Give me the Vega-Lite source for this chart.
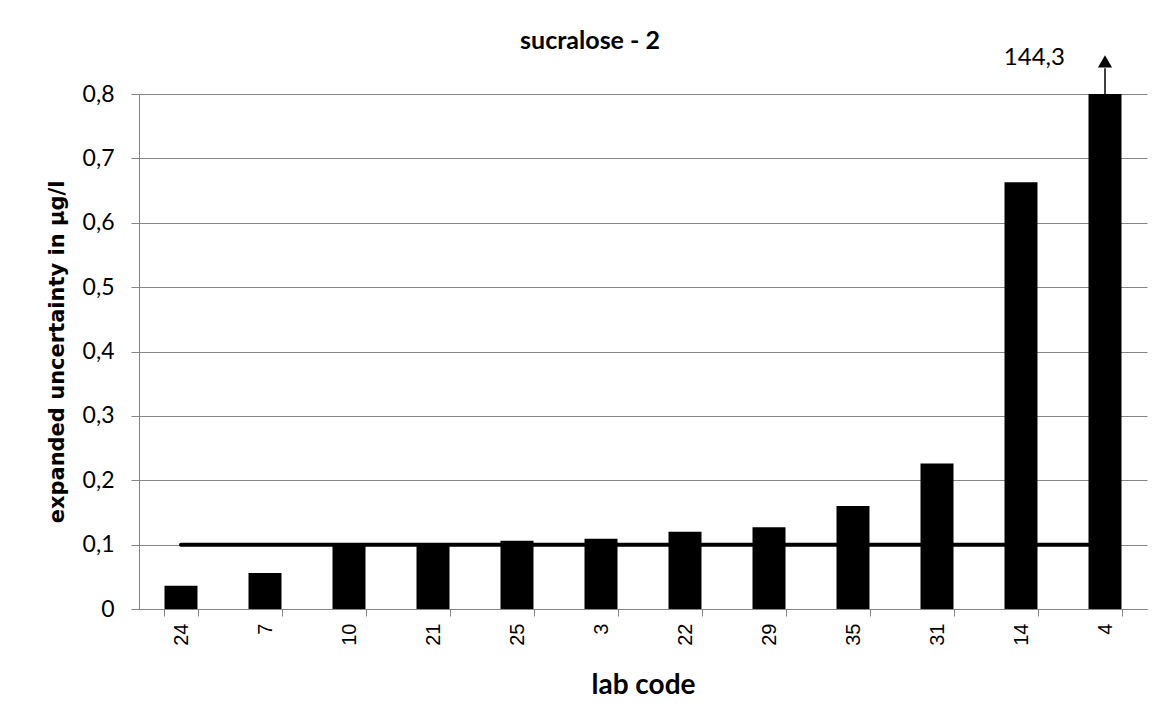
{
  "$schema": "https://vega.github.io/schema/vega-lite/v6.json",
  "autosize": {"type": "none"},
  "padding": {"left": 139, "top": 94, "right": 24, "bottom": 113},
  "width": 1008,
  "height": 515,
  "background": "white",
  "config": {
    "locale": {"number": {"decimal": ",", "thousands": ".", "grouping": [3], "currency": ["", " €"]}},
    "view": {"stroke": null},
    "font": "Lato"
  },
  "title": {
    "text": "sucralose - 2",
    "font": "Lato",
    "fontSize": 25,
    "fontWeight": "bold",
    "color": "black",
    "anchor": "middle",
    "frame": "group",
    "offset": -8,
    "dx": -53
  },
  "data": {
    "values": [
      {"lab": "24", "value": 0.036, "ref": 0.1},
      {"lab": "7", "value": 0.056, "ref": 0.1},
      {"lab": "10", "value": 0.099, "ref": 0.1},
      {"lab": "21", "value": 0.099, "ref": 0.1},
      {"lab": "25", "value": 0.106, "ref": 0.1},
      {"lab": "3", "value": 0.109, "ref": 0.1},
      {"lab": "22", "value": 0.12, "ref": 0.1},
      {"lab": "29", "value": 0.127, "ref": 0.1},
      {"lab": "35", "value": 0.16, "ref": 0.1},
      {"lab": "31", "value": 0.226, "ref": 0.1},
      {"lab": "14", "value": 0.663, "ref": 0.1},
      {"lab": "4", "value": 144.3, "ref": 0.1}
    ]
  },
  "encoding": {
    "x": {
      "field": "lab",
      "type": "nominal",
      "sort": null,
      "scale": {"paddingInner": 0.607, "paddingOuter": 0.3035},
      "axis": {
        "title": "lab code",
        "titleFont": "Lato",
        "titleFontSize": 28,
        "titleFontWeight": "bold",
        "titleColor": "black",
        "titlePadding": 26,
        "labelAngle": 270,
        "labelAlign": "right",
        "labelBaseline": "middle",
        "labelFont": "Liberation Sans",
        "labelFontSize": 20,
        "labelColor": "black",
        "labelPadding": 7,
        "tickBand": "extent",
        "tickColor": "#868686",
        "tickSize": 7,
        "domainColor": "#868686",
        "grid": false
      }
    }
  },
  "layer": [
    {
      "mark": {"type": "bar", "color": "black", "clip": true},
      "encoding": {
        "y": {
          "field": "value",
          "type": "quantitative",
          "scale": {"domain": [0, 0.8], "nice": false},
          "axis": {
            "title": "expanded uncertainty in µg/l",
            "titleFont": "DejaVu Sans",
            "titleFontSize": 21,
            "titleFontWeight": "bold",
            "titleColor": "black",
            "titlePadding": 15,
            "values": [0, 0.1, 0.2, 0.3, 0.4, 0.5, 0.6, 0.7, 0.8],
            "format": ".1f",
            "labelExpr": "datum.value == 0 ? '0' : datum.label",
            "labelFont": "Lato",
            "labelFontSize": 23,
            "labelColor": "black",
            "labelPadding": 17,
            "tickColor": "#868686",
            "tickSize": 8,
            "domainColor": "#868686",
            "gridColor": "#868686",
            "gridOpacity": 1
          }
        }
      }
    },
    {
      "mark": {"type": "line", "color": "black", "strokeWidth": 4, "strokeCap": "round"},
      "encoding": {"y": {"field": "ref", "type": "quantitative"}}
    },
    {
      "transform": [{"filter": "datum.lab == '4'"}],
      "mark": {"type": "rule", "color": "black", "strokeWidth": 1.5},
      "encoding": {"y": {"datum": 0.8}, "y2": {"datum": 0.84}}
    },
    {
      "transform": [{"filter": "datum.lab == '4'"}],
      "mark": {"type": "point", "shape": "triangle-up", "filled": true, "color": "black", "size": 200, "opacity": 1},
      "encoding": {"y": {"datum": 0.8505}}
    },
    {
      "transform": [{"filter": "datum.lab == '4'"}],
      "mark": {"type": "text", "align": "right", "baseline": "middle", "dx": -40, "font": "Lato", "fontSize": 24, "color": "black"},
      "encoding": {
        "y": {"datum": 0.856},
        "text": {"field": "value", "type": "quantitative", "format": ".1f"}
      }
    }
  ]
}
